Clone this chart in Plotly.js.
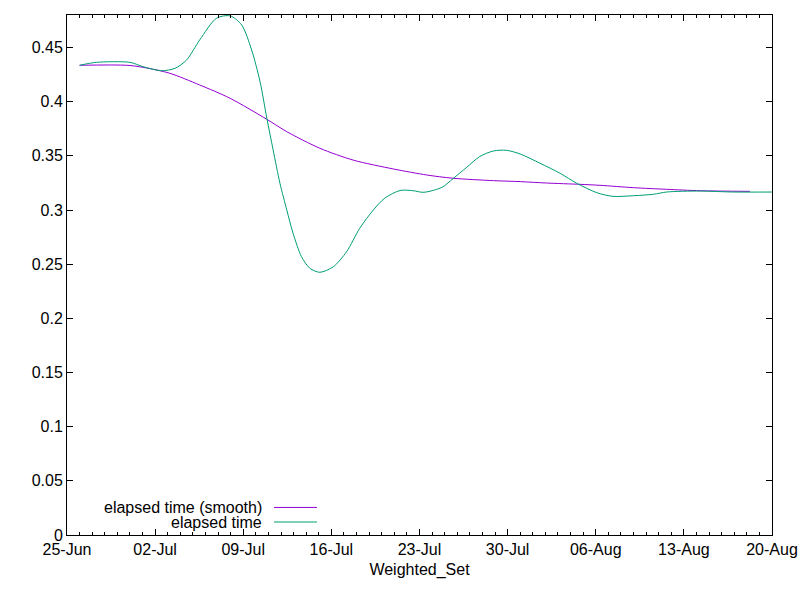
<!DOCTYPE html>
<html>
<head>
<meta charset="utf-8">
<script src="https://cdn.plot.ly/plotly-3.0.1.min.js"></script>
<style>
  html, body { margin: 0; padding: 0; background: #fff; }
  #chart { width: 800px; height: 600px; }
</style>
</head>
<body>
<div id="chart"></div>
<script>
// values
var rawDates = ['2020-06-26 00:00', '2020-06-27 08:00', '2020-06-30 00:00', '2020-07-01 01:00',
    '2020-07-02 12:00', '2020-07-03 14:00', '2020-07-04 12:00', '2020-07-05 13:00',
    '2020-07-06 21:00', '2020-07-07 23:00', '2020-07-08 21:00', '2020-07-09 16:00',
    '2020-07-10 08:00', '2020-07-10 21:00', '2020-07-11 09:00', '2020-07-11 22:00',
    '2020-07-12 11:00', '2020-07-12 23:00', '2020-07-13 15:00', '2020-07-14 07:00',
    '2020-07-15 02:00', '2020-07-16 04:00', '2020-07-17 05:00', '2020-07-18 06:00',
    '2020-07-19 08:00', '2020-07-20 06:00', '2020-07-21 11:00', '2020-07-22 12:00',
    '2020-07-23 07:00', '2020-07-24 05:00', '2020-07-24 21:00', '2020-07-25 16:00',
    '2020-07-26 18:00', '2020-07-27 19:00', '2020-07-28 21:00', '2020-07-29 22:00',
    '2020-07-31 00:00', '2020-08-01 14:00', '2020-08-03 04:00', '2020-08-04 12:00',
    '2020-08-06 02:00', '2020-08-07 09:00', '2020-08-09 00:00', '2020-08-10 14:00',
    '2020-08-11 15:00', '2020-08-14 07:00', '2020-08-16 22:00', '2020-08-20 00:00'];
var rawValues = [0.4336, 0.4363, 0.4363, 0.4323,
    0.4286, 0.4308, 0.4385, 0.4570,
    0.4770, 0.4792, 0.4708, 0.4477,
    0.4185, 0.3846, 0.3554, 0.3246,
    0.3000, 0.2785, 0.2569, 0.2462,
    0.2425, 0.2477, 0.2615, 0.2831,
    0.3000, 0.3110, 0.3180, 0.3178,
    0.3163, 0.3185, 0.3215, 0.3290,
    0.3394, 0.3494, 0.3545, 0.3551,
    0.3517, 0.3431, 0.3339, 0.3246,
    0.3160, 0.3126, 0.3132, 0.3145,
    0.3166, 0.3175, 0.3166, 0.3166];

var smoothDates = ['2020-06-26 00:00', '2020-06-29 18:00', '2020-07-01 01:00', '2020-07-03 04:00',
    '2020-07-05 13:00', '2020-07-07 23:00', '2020-07-10 21:00', '2020-07-12 11:00',
    '2020-07-15 02:00', '2020-07-17 18:00', '2020-07-20 22:00', '2020-07-23 14:00',
    '2020-07-25 16:00', '2020-07-28 21:00', '2020-07-31 00:00', '2020-08-02 02:00',
    '2020-08-04 18:00', '2020-08-06 08:00', '2020-08-09 00:00', '2020-08-11 15:00',
    '2020-08-14 07:00', '2020-08-18 06:00'];
var smoothValues = [0.4336, 0.4336, 0.4317, 0.4262,
    0.4154, 0.4031, 0.3837, 0.3723,
    0.3570, 0.3460, 0.3379, 0.3323,
    0.3293, 0.3271, 0.3262, 0.3249,
    0.3237, 0.3228, 0.3206, 0.3191,
    0.3178, 0.3172];

var seriesNames = ['elapsed time (smooth)', 'elapsed time'];
var seriesColors = ['#9400d3', '#009e73'];

var FONT = 'Liberation Sans, Arial, sans-serif';

var smooth = {
    x: smoothDates,
    y: smoothValues,
    mode: 'lines',
    type: 'scatter',
    name: seriesNames[0],
    line: {color: seriesColors[0], width: 1, shape: 'spline', smoothing: 0.8},
    hoverinfo: 'skip'
};
var raw = {
    x: rawDates,
    y: rawValues,
    mode: 'lines',
    type: 'scatter',
    name: seriesNames[1],
    line: {color: seriesColors[1], width: 1, shape: 'spline', smoothing: 0.8},
    hoverinfo: 'skip'
};

// gnuplot style key: text right aligned, sample line to its right
var keyY = [0.053, 0.025];
var annotations = [];
var shapes = [];
for (var k = 0; k < seriesNames.length; k++) {
    annotations.push({
        xref: 'paper', yref: 'paper', x: 0.2794, y: keyY[k],
        xanchor: 'right', yanchor: 'middle', showarrow: false,
        text: seriesNames[k], font: {family: FONT, size: 16, color: '#000'}
    });
    shapes.push({
        type: 'line', xref: 'paper', yref: 'paper',
        x0: 0.2936, x1: 0.3545, y0: keyY[k], y1: keyY[k],
        line: {color: seriesColors[k], width: 1}
    });
}

var layout = {
    width: 800,
    height: 600,
    margin: {l: 67, r: 28, t: 15, b: 65},
    paper_bgcolor: '#fff',
    plot_bgcolor: '#fff',
    showlegend: false,
    font: {family: FONT, size: 16, color: '#000'},
    xaxis: {
        type: 'date',
        range: ['2020-06-25', '2020-08-20'],
        tick0: '2020-06-25',
        dtick: 7 * 86400000,
        tickformat: '%d-%b',
        ticks: 'inside',
        ticklen: 6,
        tickcolor: '#000',
        showline: true,
        linecolor: '#000',
        linewidth: 1,
        mirror: 'allticks',
        showgrid: false,
        zeroline: false,
        minor: {dtick: 86400000, ticks: 'inside', ticklen: 3, tickcolor: '#000', showgrid: false},
        title: {text: 'Weighted_Set', font: {family: FONT, size: 16}, standoff: 6}
    },
    yaxis: {
        range: [0, 0.48],
        tick0: 0,
        dtick: 0.05,
        ticks: 'inside',
        ticklen: 6,
        tickcolor: '#000',
        showline: true,
        linecolor: '#000',
        linewidth: 1,
        mirror: 'allticks',
        showgrid: false,
        zeroline: false
    },
    annotations: annotations,
    shapes: shapes
};

Plotly.newPlot('chart', [smooth, raw], layout, {staticPlot: true});
</script>
</body>
</html>
